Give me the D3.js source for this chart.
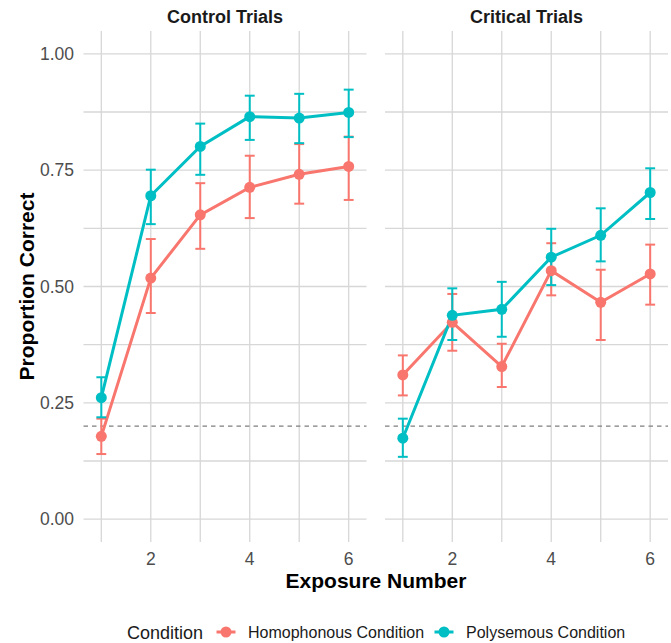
<!DOCTYPE html>
<html>
<head>
<meta charset="utf-8">
<script src="https://cdn.jsdelivr.net/npm/d3@7"></script>
<style>
  body { margin: 0; background: #fff; }
  svg { display: block; font-family: 'Liberation Sans', Arial, sans-serif; }
</style>
</head>
<body>
<svg id="chart" width="671" height="643"></svg>
<script>
const width = 671;
const height = 643;

// data
const exposures = [1, 2, 3, 4, 5, 6];
const panelNames = ['Control Trials', 'Critical Trials'];
const conditionNames = ['Homophonous Condition', 'Polysemous Condition'];
const conditionColors = ['#F8766D', '#00BFC4'];
const chanceLevel = 0.2;

const controlHomMean = [0.178, 0.518, 0.654, 0.713, 0.741, 0.758];
const controlHomLow  = [0.140, 0.443, 0.581, 0.647, 0.678, 0.686];
const controlHomHigh = [0.216, 0.602, 0.722, 0.781, 0.806, 0.822];
const controlPolMean = [0.261, 0.695, 0.801, 0.865, 0.862, 0.874];
const controlPolLow  = [0.219, 0.634, 0.740, 0.815, 0.808, 0.821];
const controlPolHigh = [0.305, 0.751, 0.850, 0.910, 0.914, 0.923];

const criticalHomMean = [0.310, 0.423, 0.328, 0.534, 0.466, 0.527];
const criticalHomLow  = [0.266, 0.362, 0.284, 0.481, 0.385, 0.461];
const criticalHomHigh = [0.352, 0.484, 0.377, 0.593, 0.536, 0.590];
const criticalPolMean = [0.174, 0.438, 0.451, 0.563, 0.610, 0.702];
const criticalPolLow  = [0.134, 0.385, 0.392, 0.503, 0.554, 0.645];
const criticalPolHigh = [0.216, 0.496, 0.510, 0.624, 0.668, 0.754];

const yTicks = [0, 0.25, 0.5, 0.75, 1];
const yMinor = [0.125, 0.375, 0.625, 0.875];
const xTicks = [2, 4, 6];
const xMinor = [1, 3, 5];

function makeSeries(mean, low, high) {
  return exposures.map((x, i) => ({ x, y: mean[i], lo: low[i], hi: high[i] }));
}

const panels = [
  { name: panelNames[0], left: 83.5, right: 366.5,
    series: [makeSeries(controlHomMean, controlHomLow, controlHomHigh),
             makeSeries(controlPolMean, controlPolLow, controlPolHigh)] },
  { name: panelNames[1], left: 385, right: 668,
    series: [makeSeries(criticalHomMean, criticalHomLow, criticalHomHigh),
             makeSeries(criticalPolMean, criticalPolLow, criticalPolHigh)] },
];

const PANEL_TOP = 31;
const PANEL_BOTTOM = 542;
const GRID = '#d7d7d7';

const svg = d3.select('#chart');

const y = d3.scaleLinear().domain([-0.049, 1.049]).range([PANEL_BOTTOM, PANEL_TOP]);

panels.forEach((p, pi) => {
  const x = d3.scaleLinear().domain([0.64, 6.36]).range([p.left, p.right]);
  const g = svg.append('g');

  // grid
  g.selectAll('.hgrid').data(yMinor.concat(yTicks)).enter().append('line')
    .attr('x1', p.left).attr('x2', p.right)
    .attr('y1', d => y(d)).attr('y2', d => y(d))
    .attr('stroke', GRID).attr('stroke-width', 1.3);
  g.selectAll('.vgrid').data(xMinor.concat(xTicks)).enter().append('line')
    .attr('x1', d => x(d)).attr('x2', d => x(d))
    .attr('y1', PANEL_TOP).attr('y2', PANEL_BOTTOM)
    .attr('stroke', GRID).attr('stroke-width', 1.3);

  // chance line
  g.append('line')
    .attr('x1', p.left).attr('x2', p.right)
    .attr('y1', y(chanceLevel)).attr('y2', y(chanceLevel))
    .attr('stroke', '#7f7f7f').attr('stroke-width', 1.2)
    .attr('stroke-dasharray', '4.5,4');

  // strip title
  g.append('text')
    .attr('x', (p.left + p.right) / 2).attr('y', 23)
    .attr('text-anchor', 'middle')
    .attr('font-size', 18).attr('font-weight', 'bold')
    .attr('fill', '#1a1a1a')
    .text(p.name);

  // x tick labels
  g.selectAll('.xt').data(xTicks).enter().append('text')
    .attr('x', d => x(d)).attr('y', 565)
    .attr('text-anchor', 'middle')
    .attr('font-size', 17.5).attr('fill', '#4d4d4d')
    .text(d => d);

  const line = d3.line().x(d => x(d.x)).y(d => y(d.y));

  p.series.forEach((s, si) => {
    g.append('path').datum(s)
      .attr('d', line)
      .attr('fill', 'none')
      .attr('stroke', conditionColors[si])
      .attr('stroke-width', 3);
  });

  p.series.forEach((s, si) => {
    const eb = g.append('g').attr('stroke', conditionColors[si]).attr('stroke-width', 2);
    const half = x(1.1) - x(1);
    s.forEach(d => {
      eb.append('line').attr('x1', x(d.x)).attr('x2', x(d.x)).attr('y1', y(d.lo)).attr('y2', y(d.hi));
      eb.append('line').attr('x1', x(d.x) - half).attr('x2', x(d.x) + half).attr('y1', y(d.lo)).attr('y2', y(d.lo));
      eb.append('line').attr('x1', x(d.x) - half).attr('x2', x(d.x) + half).attr('y1', y(d.hi)).attr('y2', y(d.hi));
    });
  });

  p.series.forEach((s, si) => {
    g.selectAll(null).data(s).enter().append('circle')
      .attr('cx', d => x(d.x)).attr('cy', d => y(d.y))
      .attr('r', 5.5)
      .attr('fill', conditionColors[si]);
  });
});

// y tick labels
svg.selectAll('.yt').data(yTicks).enter().append('text')
  .attr('x', 74).attr('y', d => y(d) + 6)
  .attr('text-anchor', 'end')
  .attr('font-size', 17.5).attr('fill', '#4d4d4d')
  .text(d => d3.format('.2f')(d));

// axis titles
svg.append('text')
  .attr('x', 376).attr('y', 588)
  .attr('text-anchor', 'middle')
  .attr('font-size', 21).attr('font-weight', 'bold')
  .text('Exposure Number');

svg.append('text')
  .attr('transform', `translate(34,${(PANEL_TOP + PANEL_BOTTOM) / 2}) rotate(-90)`)
  .attr('text-anchor', 'middle')
  .attr('font-size', 21).attr('font-weight', 'bold')
  .text('Proportion Correct');

// legend
const legend = svg.append('g').attr('transform', 'translate(0,632)');
legend.append('text')
  .attr('x', 127).attr('y', 6.5)
  .attr('font-size', 18).attr('fill', '#1a1a1a')
  .text('Condition');

const keyX = [226, 444];
const labelX = [248, 466];
conditionNames.forEach((name, i) => {
  legend.append('line')
    .attr('x1', keyX[i] - 9.5).attr('x2', keyX[i] + 9.5)
    .attr('y1', 0).attr('y2', 0)
    .attr('stroke', conditionColors[i]).attr('stroke-width', 3);
  legend.append('circle')
    .attr('cx', keyX[i]).attr('cy', 0).attr('r', 5.5)
    .attr('fill', conditionColors[i]);
  legend.append('text')
    .attr('x', labelX[i]).attr('y', 6)
    .attr('font-size', 16).attr('fill', '#1a1a1a')
    .text(name);
});
</script>
</body>
</html>
